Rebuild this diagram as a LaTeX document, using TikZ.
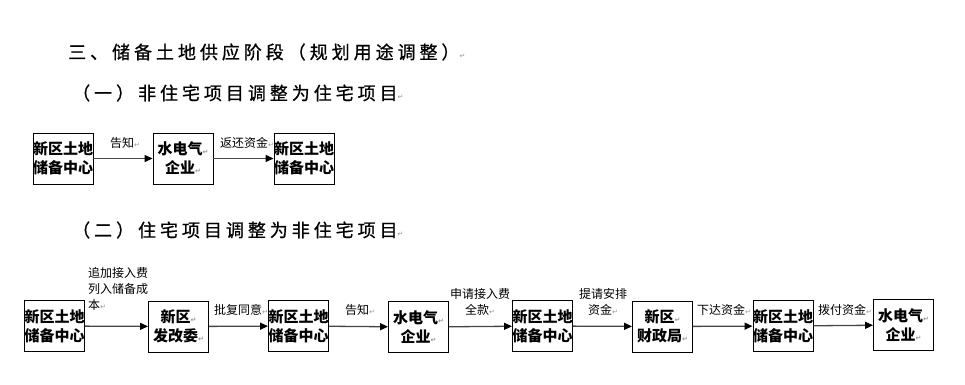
\documentclass[tikz,border=0pt]{standalone}
\usepackage{fontspec}
\setmainfont{Noto Sans CJK SC}
\newfontfamily\titlefont[LetterSpace=22, FakeBold=0.8]{Noto Sans CJK SC}
\newfontfamily\markfont{DejaVu Sans}
\usepackage{xcolor}
\definecolor{linegray}{RGB}{70, 70, 70}
\definecolor{markgray}{RGB}{150, 150, 150}
\usepackage{tikz}
\usetikzlibrary{arrows.meta}
\newcommand{\pmark}{{\markfont\fontsize{7}{7}\selectfont\textcolor{markgray}{↵}}}

\begin{document}
\begin{tikzpicture}[x=1pt, y=-1pt,
    box/.style={draw, line width=0.9pt, minimum width=60pt, minimum height=51pt, inner sep=0pt,
        align=center, font=\fontsize{15}{19}\selectfont\bfseries},
    flow/.style={draw=linegray, line width=1.3pt, -{Triangle[length=8pt, width=7pt, color=black]}},
    lbl/.style={inner sep=0pt, font=\fontsize{12}{16}\selectfont},
    heading/.style={inner sep=0pt, anchor=west, font=\titlefont\fontsize{18}{20}\selectfont}]
    \useasboundingbox (0,0) rectangle (965,384);

    % headings
    \node[heading] (h1) at (68,52) {三、储备土地供应阶段（规划用途调整）\pmark};
    \node[heading] (h2) at (72,93) {（一）非住宅项目调整为住宅项目\pmark};
    \node[heading] (h3) at (72,230) {（二）住宅项目调整为非住宅项目\pmark};

    % non-residential -> residential
    \node[box] (ta) at (63,158.5) {新区土地\\储备中心};
    \node[box] (tb) at (183,158.5) {水电气\pmark\\企业\pmark};
    \node[box] (tc) at (304,158.5) {新区土地\\储备中心};
    \draw[flow] (ta) -- (tb);
    \draw[flow] (tb) -- (tc);
    \node[lbl, anchor=west] (tl1) at (110,143) {告知\pmark};
    \node[lbl, anchor=west] (tl2) at (220,143) {返还资金\pmark};

    % residential -> non-residential
    \node[box] (ba) at (54.5,326) {新区土地\\储备中心};
    \node[box] (bb) at (178.5,326.5) {新区\pmark\\发改委\pmark};
    \node[box] (bc) at (298.5,326) {新区土地\\储备中心};
    \node[box] (bd) at (418.5,327) {水电气\pmark\\企业\pmark};
    \node[box] (be) at (542.5,326) {新区土地\\储备中心};
    \node[box] (bf) at (662.5,326.5) {新区\pmark\\财政局\pmark};
    \node[box] (bg) at (783,326) {新区土地\\储备中心};
    \node[box] (bh) at (903.5,325) {水电气\pmark\\企业\pmark};
    \draw[flow] (ba) -- (bb);
    \draw[flow] (bb) -- (bc);
    \draw[flow] (bc) -- (bd);
    \draw[flow] (bd) -- (be);
    \draw[flow] (be) -- (bf);
    \draw[flow] (bf) -- (bg);
    \draw[flow] (bg) -- (bh);
    \node[lbl, anchor=north west, align=left] (bl1) at (88,267) {追加接入费\\列入储备成\\本\pmark};
    \node[lbl, anchor=west] (bl2) at (214,310) {批复同意\pmark};
    \node[lbl, anchor=west] (bl3) at (345,310) {告知\pmark};
    \node[lbl, align=center] (bl4) at (480,301.5) {申请接入费\\全款\pmark};
    \node[lbl, align=center] (bl5) at (603,301.5) {提请安排\\资金\pmark};
    \node[lbl, anchor=west] (bl6) at (697,310) {下达资金\pmark};
    \node[lbl, anchor=west] (bl7) at (818,310) {拨付资金\pmark};
\end{tikzpicture}
\end{document}
